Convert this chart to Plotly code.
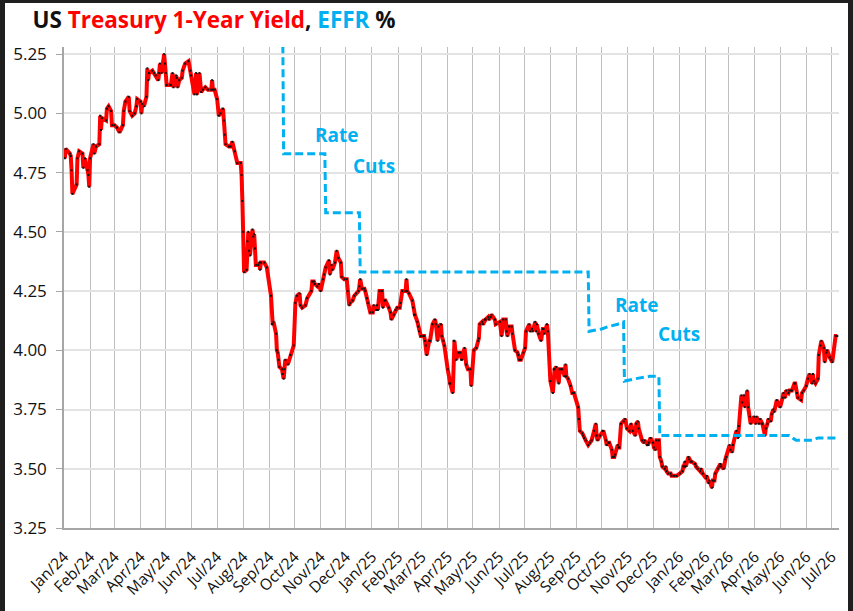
import plotly.graph_objects as go

# ---------------- data ----------------
yield_dates = [
    "2024-01-02","2024-01-03","2024-01-08","2024-01-09","2024-01-10","2024-01-11","2024-01-16","2024-01-17",
    "2024-01-19","2024-01-23","2024-01-24","2024-01-26","2024-01-29","2024-01-30","2024-01-31",
    "2024-02-01","2024-02-05","2024-02-06","2024-02-08","2024-02-12","2024-02-13","2024-02-14","2024-02-15",
    "2024-02-20","2024-02-21","2024-02-23","2024-02-26","2024-02-27",
    "2024-03-01","2024-03-04","2024-03-07","2024-03-11","2024-03-12","2024-03-14","2024-03-18","2024-03-19",
    "2024-03-22","2024-03-25","2024-03-27","2024-03-28",
    "2024-04-01","2024-04-02","2024-04-03","2024-04-05","2024-04-08","2024-04-09","2024-04-10","2024-04-11",
    "2024-04-15","2024-04-17","2024-04-19","2024-04-22","2024-04-23","2024-04-24","2024-04-26","2024-04-29","2024-04-30",
    "2024-05-01","2024-05-02","2024-05-06","2024-05-07","2024-05-09","2024-05-10","2024-05-13","2024-05-14",
    "2024-05-15","2024-05-17","2024-05-20","2024-05-21","2024-05-24","2024-05-28","2024-05-30","2024-05-31",
    "2024-06-04","2024-06-06","2024-06-07","2024-06-10","2024-06-12","2024-06-14","2024-06-17","2024-06-20",
    "2024-06-24","2024-06-25","2024-06-26","2024-06-28",
    "2024-07-01","2024-07-03","2024-07-05","2024-07-08","2024-07-09","2024-07-10","2024-07-11","2024-07-15",
    "2024-07-17","2024-07-19","2024-07-22","2024-07-25","2024-07-29","2024-07-30","2024-07-31",
    "2024-08-01","2024-08-02","2024-08-05","2024-08-06","2024-08-07","2024-08-08","2024-08-09","2024-08-12",
    "2024-08-13","2024-08-14","2024-08-15","2024-08-16","2024-08-19","2024-08-20","2024-08-21","2024-08-22",
    "2024-08-26","2024-08-29",
    "2024-09-03","2024-09-04","2024-09-05","2024-09-06","2024-09-09","2024-09-10","2024-09-11","2024-09-12",
    "2024-09-13","2024-09-16","2024-09-17","2024-09-18","2024-09-19","2024-09-20","2024-09-23","2024-09-26","2024-09-30",
    "2024-10-02","2024-10-04","2024-10-07","2024-10-08","2024-10-10","2024-10-14","2024-10-16","2024-10-21",
    "2024-10-22","2024-10-24","2024-10-25","2024-10-28","2024-10-30",
    "2024-11-01","2024-11-04","2024-11-05","2024-11-07","2024-11-11","2024-11-12","2024-11-14","2024-11-15",
    "2024-11-18","2024-11-20","2024-11-22","2024-11-25","2024-11-26","2024-11-29",
    "2024-12-02","2024-12-03","2024-12-05","2024-12-06","2024-12-09","2024-12-11","2024-12-13","2024-12-16",
    "2024-12-17","2024-12-18","2024-12-20","2024-12-23","2024-12-24","2024-12-26","2024-12-27","2024-12-30",
    "2025-01-02","2025-01-03","2025-01-06","2025-01-07","2025-01-08","2025-01-10","2025-01-13","2025-01-14",
    "2025-01-16","2025-01-17","2025-01-21","2025-01-23","2025-01-24","2025-01-27","2025-01-29","2025-01-31",
    "2025-02-03","2025-02-04","2025-02-06","2025-02-10","2025-02-11","2025-02-12","2025-02-14","2025-02-18",
    "2025-02-19","2025-02-20","2025-02-21","2025-02-24","2025-02-25","2025-02-26","2025-02-28",
    "2025-03-03","2025-03-04","2025-03-05","2025-03-06","2025-03-07","2025-03-10","2025-03-11","2025-03-14",
    "2025-03-17","2025-03-18","2025-03-20","2025-03-21","2025-03-24","2025-03-25","2025-03-27","2025-03-28",
    "2025-04-01","2025-04-03","2025-04-04","2025-04-07","2025-04-08","2025-04-09","2025-04-11","2025-04-14",
    "2025-04-16","2025-04-17","2025-04-18","2025-04-21","2025-04-23","2025-04-25","2025-04-28","2025-04-29",
    "2025-05-02","2025-05-05","2025-05-07","2025-05-08","2025-05-09","2025-05-12","2025-05-13","2025-05-15",
    "2025-05-16","2025-05-19","2025-05-20","2025-05-22","2025-05-23","2025-05-27","2025-05-28",
    "2025-06-02","2025-06-04","2025-06-06","2025-06-09","2025-06-10","2025-06-11","2025-06-13","2025-06-16",
    "2025-06-17","2025-06-20","2025-06-23","2025-06-24","2025-06-25","2025-06-27","2025-06-30",
    "2025-07-02","2025-07-03","2025-07-07","2025-07-08","2025-07-10","2025-07-11","2025-07-14","2025-07-15",
    "2025-07-16","2025-07-18","2025-07-21","2025-07-23","2025-07-24","2025-07-25","2025-07-28","2025-07-29",
    "2025-08-01","2025-08-04","2025-08-05","2025-08-06","2025-08-08","2025-08-11","2025-08-12","2025-08-14",
    "2025-08-15","2025-08-18","2025-08-19","2025-08-20","2025-08-22","2025-08-25","2025-08-27","2025-08-29",
    "2025-09-03","2025-09-04","2025-09-05","2025-09-08","2025-09-09","2025-09-10","2025-09-12","2025-09-15",
    "2025-09-17","2025-09-19","2025-09-22","2025-09-24","2025-09-25","2025-09-26","2025-09-29",
    "2025-10-02","2025-10-03","2025-10-06","2025-10-07","2025-10-09","2025-10-10","2025-10-13","2025-10-14",
    "2025-10-16","2025-10-17","2025-10-20","2025-10-21","2025-10-22","2025-10-24","2025-10-27","2025-10-29","2025-10-31",
    "2025-11-03","2025-11-05","2025-11-07","2025-11-10","2025-11-11","2025-11-13","2025-11-14","2025-11-18",
    "2025-11-20","2025-11-21","2025-11-24","2025-11-25","2025-11-26","2025-11-28",
    "2025-12-01","2025-12-02","2025-12-04","2025-12-05","2025-12-08","2025-12-09","2025-12-11","2025-12-12",
    "2025-12-15","2025-12-16","2025-12-17","2025-12-19","2025-12-22","2025-12-23","2025-12-26","2025-12-29",
    "2026-01-02","2026-01-05","2026-01-06","2026-01-07","2026-01-08","2026-01-09","2026-01-12","2026-01-13",
    "2026-01-15","2026-01-16","2026-01-20","2026-01-21","2026-01-23","2026-01-26","2026-01-27","2026-01-29",
    "2026-02-02","2026-02-03","2026-02-05","2026-02-06","2026-02-09","2026-02-10","2026-02-12","2026-02-13",
    "2026-02-16","2026-02-18","2026-02-19","2026-02-20","2026-02-23","2026-02-25","2026-02-26",
    "2026-03-02","2026-03-03","2026-03-05","2026-03-06","2026-03-09","2026-03-10","2026-03-12","2026-03-13",
    "2026-03-16","2026-03-17","2026-03-19","2026-03-20","2026-03-23","2026-03-24","2026-03-26","2026-03-27","2026-03-31",
    "2026-04-02","2026-04-03","2026-04-06","2026-04-07","2026-04-09","2026-04-10","2026-04-13","2026-04-14",
    "2026-04-16","2026-04-17","2026-04-20","2026-04-21","2026-04-23","2026-04-24","2026-04-27",
    "2026-05-01","2026-05-04","2026-05-05","2026-05-07","2026-05-08","2026-05-11","2026-05-12","2026-05-14",
    "2026-05-15","2026-05-18","2026-05-19","2026-05-21","2026-05-22","2026-05-26","2026-05-27","2026-05-29",
    "2026-06-01","2026-06-03","2026-06-05","2026-06-08","2026-06-09","2026-06-10","2026-06-12","2026-06-15",
    "2026-06-16","2026-06-18","2026-06-19","2026-06-22","2026-06-23","2026-06-25","2026-06-26","2026-06-29",
    "2026-07-01","2026-07-02","2026-07-06","2026-07-08",
]
yield_values = [
    4.81,4.85,4.83,4.82,4.76,4.66,4.70,4.81,
    4.84,4.83,4.77,4.81,4.76,4.74,4.69,
    4.81,4.87,4.83,4.86,4.87,4.99,4.93,4.98,
    4.97,5.02,5.03,5.01,4.95,
    4.95,4.94,4.92,4.95,5.01,5.05,5.07,5.01,
    4.99,5.00,5.03,5.06,
    5.05,5.00,5.04,5.03,5.07,5.19,5.14,5.17,
    5.18,5.17,5.16,5.14,5.17,5.21,5.17,5.25,5.21,
    5.17,5.12,5.12,5.12,5.17,5.11,5.16,5.15,
    5.11,5.14,5.15,5.18,5.21,5.22,5.18,5.16,
    5.08,5.17,5.08,5.17,5.09,5.10,5.11,5.10,
    5.10,5.14,5.10,5.10,
    5.06,4.99,5.00,5.02,4.97,4.91,4.87,4.86,
    4.86,4.88,4.84,4.79,4.79,4.74,4.63,
    4.50,4.33,4.34,4.46,4.50,4.42,4.40,4.51,
    4.48,4.49,4.43,4.36,4.36,4.37,4.34,4.37,
    4.37,4.35,
    4.23,4.11,4.11,4.12,4.07,4.00,3.99,3.96,
    3.93,3.92,3.90,3.88,3.92,3.96,3.94,3.98,4.02,
    4.20,4.23,4.24,4.19,4.18,4.19,4.22,4.25,
    4.29,4.29,4.28,4.27,4.28,
    4.25,4.30,4.32,4.35,4.38,4.32,4.36,4.34,
    4.37,4.42,4.39,4.37,4.31,4.30,
    4.30,4.25,4.19,4.20,4.21,4.23,4.24,4.25,
    4.27,4.30,4.26,4.26,4.25,4.22,4.20,4.16,
    4.16,4.19,4.17,4.19,4.17,4.25,4.25,4.18,
    4.21,4.21,4.18,4.16,4.13,4.15,4.17,4.18,
    4.18,4.20,4.25,4.25,4.30,4.25,4.24,4.21,
    4.18,4.15,4.15,4.12,4.10,4.08,4.06,
    4.06,4.06,4.04,4.02,3.98,4.04,4.04,4.11,
    4.13,4.11,4.04,4.10,4.11,4.06,4.04,4.02,
    3.92,3.86,3.86,3.82,4.04,4.04,3.96,3.99,
    3.99,3.96,3.96,4.01,3.94,3.92,3.92,3.85,
    4.00,4.01,4.04,4.05,4.11,4.12,4.11,4.13,
    4.13,4.14,4.13,4.14,4.15,4.13,4.11,
    4.12,4.06,4.13,4.13,4.08,4.06,4.10,4.10,
    4.07,4.00,3.99,3.98,3.96,3.96,3.99,
    4.01,4.08,4.11,4.08,4.09,4.08,4.12,4.08,
    4.11,4.07,4.04,4.09,4.09,4.07,4.11,4.08,
    3.87,3.82,3.92,3.92,3.93,3.86,3.92,3.92,
    3.92,3.89,3.94,3.89,3.88,3.85,3.82,3.82,
    3.76,3.71,3.66,3.65,3.64,3.63,3.62,3.60,
    3.61,3.62,3.66,3.69,3.64,3.62,3.64,
    3.66,3.66,3.62,3.60,3.61,3.61,3.58,3.55,
    3.55,3.56,3.60,3.59,3.59,3.69,3.70,3.71,3.67,
    3.66,3.69,3.66,3.64,3.69,3.70,3.67,3.62,
    3.61,3.62,3.60,3.60,3.61,3.63,
    3.61,3.59,3.58,3.62,3.62,3.55,3.53,3.51,
    3.50,3.51,3.49,3.48,3.48,3.47,3.47,3.47,
    3.48,3.49,3.51,3.51,3.53,3.51,3.55,3.54,
    3.53,3.53,3.52,3.51,3.50,3.49,3.50,3.48,
    3.46,3.47,3.44,3.45,3.42,3.45,3.45,3.48,
    3.50,3.51,3.52,3.51,3.50,3.54,3.55,
    3.60,3.58,3.57,3.60,3.64,3.66,3.63,3.68,
    3.81,3.78,3.81,3.76,3.83,3.76,3.72,3.69,3.72,
    3.69,3.72,3.69,3.71,3.69,3.69,3.64,3.67,
    3.69,3.71,3.70,3.73,3.75,3.74,3.79,
    3.76,3.80,3.82,3.80,3.83,3.82,3.83,3.83,
    3.83,3.86,3.86,3.82,3.80,3.79,3.82,3.83,
    3.85,3.88,3.90,3.86,3.90,3.87,3.86,3.88,
    3.98,4.02,4.04,4.01,3.95,3.99,4.00,3.97,
    3.96,3.95,4.06,4.06,
]

effr_dates = [
    "2024-01-02","2024-09-17","2024-09-18","2024-11-06","2024-11-07","2024-12-17","2024-12-18",
    "2025-09-15","2025-09-16","2025-10-01","2025-10-09","2025-10-20","2025-10-27","2025-10-28",
    "2025-11-10","2025-11-27","2025-12-08","2025-12-09","2026-05-12","2026-05-20","2026-06-08",
    "2026-06-15","2026-07-09",
]
effr_values = [
    5.33,5.33,4.83,4.83,4.58,4.58,4.33,
    4.33,4.08,4.09,4.10,4.11,4.12,3.87,
    3.88,3.89,3.89,3.64,3.64,3.62,3.62,
    3.63,3.63,
]

y_ticks = [3.25, 3.50, 3.75, 4.00, 4.25, 4.50, 4.75, 5.00, 5.25]

RED = "#FF0000"
BLUE = "#00B0F0"

fig = go.Figure()
fig.add_trace(go.Scatter(
    x=yield_dates, y=yield_values, mode="lines+markers",
    line=dict(color=RED, width=4),
    marker=dict(color="#111111", size=2, symbol="square"),
    showlegend=False, hoverinfo="x+y",
))
fig.add_trace(go.Scatter(
    x=effr_dates, y=effr_values, mode="lines",
    line=dict(color=BLUE, width=3, dash="8px,4px"),
    showlegend=False, hoverinfo="x+y",
))

FONT = "Open Sans"

fig.update_layout(
    width=853, height=611,
    margin=dict(l=64, r=14, t=47, b=83),
    paper_bgcolor="#1f1f1f",
    plot_bgcolor="white",
    font=dict(family=FONT, color="#222222"),
    title=dict(
        text=("<b>US <span style='color:#FF0000'>Treasury 1-Year Yield</span>, "
              "<span style='color:#00B0F0'>EFFR</span> %</b>"),
        x=214/853, xanchor="center", xref="container",
        y=1-20/611, yanchor="middle", yref="container",
        font=dict(family=FONT, size=22.5, color="#111111"),
    ),
    xaxis=dict(
        type="date",
        range=["2024-01-01", "2026-07-10"],
        tick0="2024-01-01", dtick="M1",
        tickformat="%b/%y", tickangle=-45,
        tickfont=dict(family=FONT, size=15.5, color="#111111"),
        ticklabelstandoff=12,
        showgrid=True, gridcolor="#BFBFBF", gridwidth=1.3,
        showline=True, linecolor="#A6A6A6", linewidth=1.5,
        ticks="", zeroline=False,
    ),
    yaxis=dict(
        range=[3.25, 5.28],
        tickvals=y_ticks, tickformat=".2f",
        tickfont=dict(family=FONT, size=17, color="#111111"),
        ticklabelstandoff=6,
        showgrid=True, gridcolor="#E3E3E3", gridwidth=1.5,
        showline=True, linecolor="#A6A6A6", linewidth=1.5,
        ticks="outside", ticklen=6, tickcolor="#A6A6A6",
        zeroline=False,
    ),
    shapes=[dict(
        type="rect", xref="paper", yref="paper",
        x0=(5-64)/775, x1=(848-64)/775, y0=-0.3, y1=(528-3)/481,
        fillcolor="white", line=dict(width=0), layer="below",
    )],
    annotations=[
        dict(x="2024-11-20", y=4.908, xref="x", yref="y", text="<b>Rate</b>", showarrow=False,
             font=dict(family=FONT, size=19, color=BLUE)),
        dict(x="2025-01-03", y=4.777, xref="x", yref="y", text="<b>Cuts</b>", showarrow=False,
             font=dict(family=FONT, size=19, color=BLUE)),
        dict(x="2025-11-12", y=4.191, xref="x", yref="y", text="<b>Rate</b>", showarrow=False,
             font=dict(family=FONT, size=19, color=BLUE)),
        dict(x="2026-01-01", y=4.069, xref="x", yref="y", text="<b>Cuts</b>", showarrow=False,
             font=dict(family=FONT, size=19, color=BLUE)),
    ],
)

fig.write_html("out.html")
